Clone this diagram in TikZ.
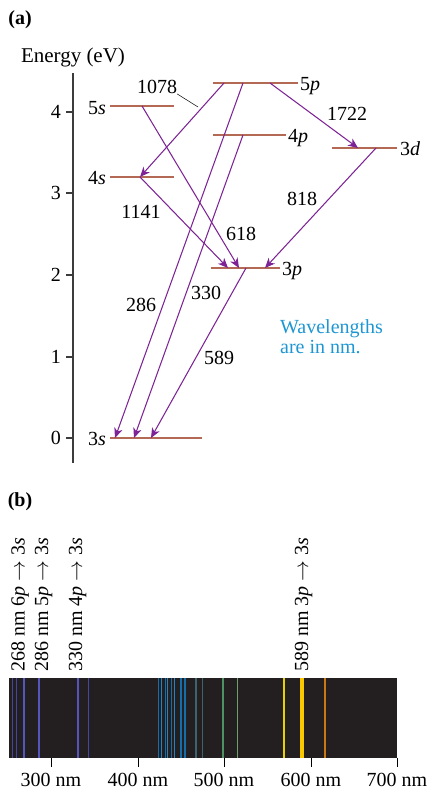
\documentclass[tikz,border=0pt]{standalone}
\usepackage{fontspec}
\setmainfont{Liberation Serif}
\usetikzlibrary{arrows.meta}
\definecolor{lvl}{RGB}{180,105,85}
\definecolor{trans}{RGB}{125,35,150}
\definecolor{note}{RGB}{30,150,210}
\definecolor{specbg}{RGB}{35,31,32}
\definecolor{axisc}{RGB}{60,60,60}
\definecolor{uvA}{RGB}{70,70,160}
\definecolor{uvB}{RGB}{85,85,190}
\definecolor{blA}{RGB}{20,110,170}
\definecolor{blB}{RGB}{40,130,190}
\definecolor{tl}{RGB}{60,100,110}
\definecolor{grA}{RGB}{80,145,100}
\definecolor{grB}{RGB}{110,160,110}
\definecolor{ylA}{RGB}{230,210,0}
\definecolor{ylB}{RGB}{250,200,0}
\definecolor{orA}{RGB}{200,120,20}
\tikzset{
  level/.style={draw=lvl, line width=1.9pt},
  transition/.style={draw=trans, line width=1.05pt, -{Stealth[length=10pt,width=8.5pt,inset=3pt]}},
  lab/.style={inner sep=0pt},
  axisline/.style={draw=axisc, line width=1.1pt},
  specline/.style={line width=#1},
  speclab/.style={inner sep=0pt, rotate=90, anchor=base west},
}
\begin{document}
\begin{tikzpicture}[x=1pt,y=-1pt,font=\fontsize{20}{20.5}\selectfont]
\useasboundingbox (0,0) rectangle (430,790);

% ---------- (a) ----------
\node[lab, font=\fontsize{20}{20.5}\selectfont\bfseries] (la) at (20,20) {(a)};
\node[lab, font=\fontsize{21}{21.5}\selectfont] (elabel) at (73,57) {Energy (eV)};

\coordinate (axTop) at (73,73);
\coordinate (axBot) at (73,463);
\draw[axisline] (axTop) -- (axBot);
\foreach \v/\y in {4/112,3/193,2/275,1/357,0/438}{
  \coordinate (tk\v) at (73,\y);
  \coordinate (tkL\v) at (66,\y);
  \draw[axisline] (tkL\v) -- (tk\v);
  \node[lab, anchor=east] (tn\v) at (61,\y) {\v};
}

% levels
\coordinate (s5L) at (110,106); \coordinate (s5R) at (174,106);
\coordinate (s4L) at (110,177); \coordinate (s4R) at (174,177);
\coordinate (s3L) at (110,438); \coordinate (s3R) at (202,438);
\coordinate (p5L) at (213,83);  \coordinate (p5R) at (298,83);
\coordinate (p4L) at (213,135); \coordinate (p4R) at (286,135);
\coordinate (d3L) at (332,148); \coordinate (d3R) at (397,148);
\coordinate (p3L) at (211,268); \coordinate (p3R) at (280,268);
\foreach \a/\b in {s5L/s5R,s4L/s4R,s3L/s3R,p5L/p5R,p4L/p4R,d3L/d3R,p3L/p3R}
  \draw[level] (\a) -- (\b);

\node[lab, anchor=base east] (n5s) at (106,114) {5\textit{s}};
\node[lab, anchor=base east] (n4s) at (106,184) {4\textit{s}};
\node[lab, anchor=base east] (n3s) at (106,445) {3\textit{s}};
\node[lab, anchor=base west] (n5p) at (300,90) {5\textit{p}};
\node[lab, anchor=base west] (n4p) at (288,142) {4\textit{p}};
\node[lab, anchor=base west] (n3d) at (400,155) {3\textit{d}};
\node[lab, anchor=base west] (n3p) at (282,275) {3\textit{p}};

% transition end points
\coordinate (a1) at (224,83);  \coordinate (b1) at (140,177);
\coordinate (a2) at (142,106); \coordinate (b2) at (239,268);
\coordinate (a3) at (140,177); \coordinate (b3) at (228,268);
\coordinate (a4) at (270,83);  \coordinate (b4) at (358,148);
\coordinate (a5) at (376,148); \coordinate (b5) at (265,268);
\coordinate (a6) at (243,83);  \coordinate (b6) at (115,438);
\coordinate (a7) at (243,135); \coordinate (b7) at (134,438);
\coordinate (a8) at (246,268); \coordinate (b8) at (151,438);
\foreach \i in {1,...,8} \draw[transition] (a\i) -- (b\i);

% wavelength labels
\node[lab] (w1078) at (157,87) {1078};
\coordinate (lead) at (198,107);
\draw[line width=0.5pt] (w1078.south east) -- (lead);
\node[lab] (w1722) at (347,114) {1722};
\node[lab] (w818) at (302,199) {818};
\node[lab] (w618) at (241,234) {618};
\node[lab] (w1141) at (141,212) {1141};
\node[lab] (w286) at (141,305) {286};
\node[lab] (w330) at (206,293) {330};
\node[lab] (w589) at (219,358) {589};

\node[lab, anchor=base west, text=note] (wl1) at (280,333) {Wavelengths};
\node[lab, anchor=base west, text=note] (wl2) at (280,353) {are in nm.};

% ---------- (b) ----------
\node[lab, font=\fontsize{20}{20.5}\selectfont\bfseries] (lb) at (20,502) {(b)};

\node[speclab] (r268) at (24.5,672) {268 nm 6\textit{p} $\rightarrow$ 3\textit{s}};
\node[speclab] (r286) at (48,672) {286 nm 5\textit{p} $\rightarrow$ 3\textit{s}};
\node[speclab] (r330) at (82,672) {330 nm 4\textit{p} $\rightarrow$ 3\textit{s}};
\node[speclab] (r589) at (308,672) {589 nm 3\textit{p} $\rightarrow$ 3\textit{s}};

\fill[specbg] (9,678) rectangle (397,758);
\foreach \x/\c/\w in {12.3/uvA/1.2pt,16.3/uvA/1.2pt,24/uvB/1.5pt,39.3/uvB/2pt,78.3/uvB/2pt,88.3/uvA/1.2pt,
  158.7/blA/1.2pt,161.7/blB/1.2pt,165.7/blA/1.2pt,167.3/blB/1.2pt,171.7/blA/1.2pt,174.3/blB/1.2pt,
  181/blA/1.3pt,185/blA/1.3pt,196/tl/1.5pt,202.7/tl/1.5pt,222.7/grA/2pt,237.7/grB/1.5pt,
  284/ylA/1.5pt,302/ylB/3.5pt,325/orA/1.6pt}
  \draw[specline=\w, draw=\c] (\x,678) -- (\x,758);

\foreach \x/\t in {51/300,138/400,224/500,311/600,397/700}{
  \coordinate (st\t) at (\x,758);
  \coordinate (sb\t) at (\x,767);
  \draw[line width=0.9pt] (st\t) -- (sb\t);
  \node[lab] (sl\t) at (\x,779.5) {\t\ nm};
}
\end{tikzpicture}
\end{document}
